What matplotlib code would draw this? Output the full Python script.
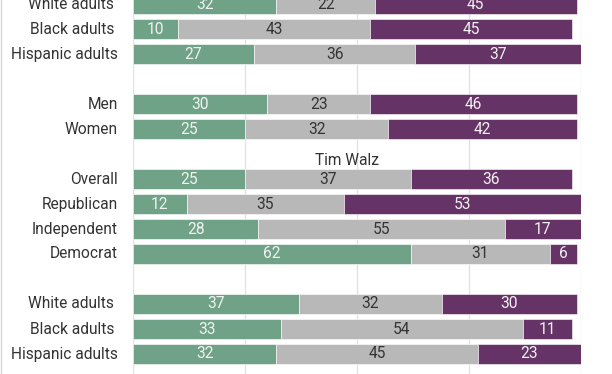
import matplotlib
matplotlib.use("Agg")
import matplotlib.pyplot as plt

plt.rcParams['font.family'] = ['Roboto', 'DejaVu Sans']

# Rows in display order (None = empty spacer row)
categories = ["White adults ", "Black adults ", "Hispanic adults", None,
              "Men", "Women", None,
              "Overall", "Republican", "Independent", "Democrat", None,
              "White adults ", "Black adults ", "Hispanic adults"]
favorable = [32, 10, 27, None, 30, 25, None, 25, 12, 28, 62, None, 37, 33, 32]
neutral   = [22, 43, 36, None, 23, 32, None, 37, 35, 55, 31, None, 32, 54, 45]
unfavorable = [45, 45, 37, None, 46, 42, None, 36, 53, 17, 6, None, 30, 11, 23]
section_title = "Tim Walz"
xticks = [0, 25, 50, 75, 100]

GREEN = "#6fa287"
GRAY = "#b8b8b8"
PURPLE = "#663366"
FS = 11.2

W, H = 612, 374
fig = plt.figure(figsize=(W / 100, H / 100), dpi=100)
ax = fig.add_axes([133 / W, 0, 448 / W, 1])
ax.set_xlim(0, 100)
# pixel y = 4 + 25*k
ax.set_ylim((H - 4) / 25, -4 / 25)
ax.axis('off')

for g in xticks:
    ax.axvline(g, color="#e2e2e2", lw=1, zorder=0)

for k, cat in enumerate(categories):
    if cat is None:
        continue
    vals = [favorable[k], neutral[k], unfavorable[k]]
    cols = [GREEN, GRAY, PURPLE]
    tcols = ["#f2f2f2", "#333333", "#f2f2f2"]
    left = 0
    for v, c, tc in zip(vals, cols, tcols):
        ax.barh(k, v, left=left, height=0.8, color=c, edgecolor="white",
                linewidth=0.4, zorder=2)
        ax.text(left + v / 2, k, str(v), ha='center', va='center',
                color=tc, fontsize=FS, zorder=3)
        left += v
    ax.text(-15 / 4.48, k, cat, ha='right', va='center', color="#333333",
            fontsize=FS, clip_on=False)

ax.text((347 - 133) / 4.48, 6.24, section_title, ha='center', va='center',
        color="#333333", fontsize=FS)

# left border line
fig.add_artist(plt.Line2D([0.5 / W, 0.5 / W], [0, 1], color="#d8d8d8", lw=1))

fig.savefig("out.png", dpi=100)
